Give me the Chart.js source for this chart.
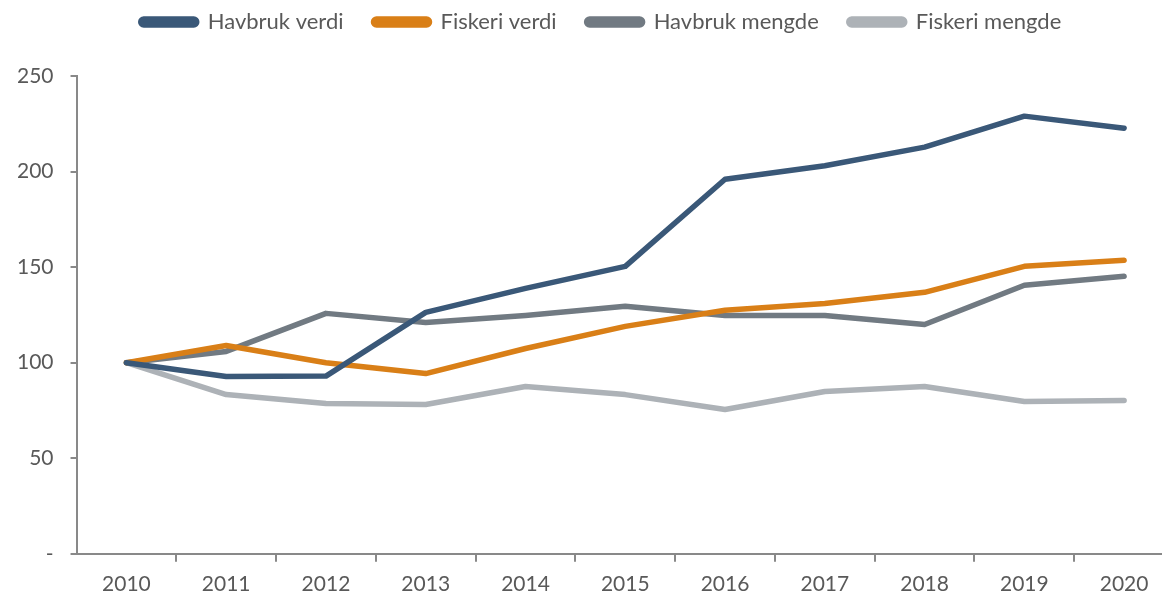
<!DOCTYPE html>
<html>
<head>
<meta charset="utf-8">
<script src="https://cdn.jsdelivr.net/npm/chart.js@4/dist/chart.umd.min.js"></script>
<style>
  html, body { margin: 0; padding: 0; background: #fff; }
  #wrap { width: 1162px; height: 595px; }
</style>
</head>
<body>
<div id="wrap"><canvas id="chart" width="1162" height="595"></canvas></div>
<script>
// Index, 2010 = 100
const years = ['2010', '2011', '2012', '2013', '2014', '2015', '2016', '2017', '2018', '2019', '2020'];
const havbrukVerdi = [100, 92.8, 93, 126.3, 138.9, 150.4, 196, 203, 212.8, 229, 222.7];
const fiskeriVerdi = [100, 109, 100, 94.3, 107.4, 119, 127.4, 131, 136.8, 150.4, 153.6];
const havbrukMengde = [100, 105.9, 125.8, 121, 124.7, 129.5, 124.7, 124.7, 120, 140.5, 145.2];
const fiskeriMengde = [100, 83.3, 78.6, 78.1, 87.5, 83.3, 75.5, 84.9, 87.5, 79.7, 80.2];
const yTicks = [0, 50, 100, 150, 200, 250];

const textColor = '#595959';
const axisColor = '#898989';
const font = { family: 'Lato', size: 21 };

function series(label, data, color) {
    return {
        label: label,
        data: data,
        borderColor: color,
        backgroundColor: color,
        borderWidth: 5.5,
        borderCapStyle: 'round',
        borderJoinStyle: 'round',
        pointRadius: 0,
        tension: 0
    };
}

// legend a bit to the right, and the x band runs past the canvas edge like the original
const layoutTweaks = {
    id: 'layoutTweaks',
    afterLayout(chart) {
        chart.legend.left += 20;
        chart.legend.right += 20;
        const extra = 12;
        const x = chart.scales.x;
        x.right += extra;
        x.width += extra;
        chart.chartArea.right += extra;
        chart.chartArea.width += extra;
        x.configure();
    }
};

const ctx = document.getElementById('chart').getContext('2d');
new Chart(ctx, {
    type: 'line',
    data: {
        labels: years,
        datasets: [
            series('Havbruk verdi', havbrukVerdi, '#3A5878'),
            series('Fiskeri verdi', fiskeriVerdi, '#D97F17'),
            series('Havbruk mengde', havbrukMengde, '#717A82'),
            series('Fiskeri mengde', fiskeriMengde, '#ADB2B7')
        ]
    },
    plugins: [layoutTweaks],
    options: {
        responsive: false,
        animation: false,
        layout: { padding: { left: 0, right: 0, top: -19, bottom: -12 } },
        plugins: {
            tooltip: { enabled: false },
            legend: {
                position: 'top',
                align: 'center',
                labels: {
                    boxWidth: 56,
                    boxHeight: 6,
                    useBorderRadius: true,
                    borderRadius: 3,
                    color: textColor,
                    font: { family: 'Lato', size: 22 },
                    padding: 30
                }
            },
            // empty title used only as a spacer between legend and plot
            title: {
                display: true,
                text: '',
                weight: 500,
                font: { size: 10, lineHeight: 1 },
                padding: { top: 0, bottom: 23 }
            }
        },
        scales: {
            x: {
                offset: true,
                grid: {
                    offset: true,
                    drawOnChartArea: false,
                    drawTicks: true,
                    tickLength: 8,
                    color: c => (c.index === 0 || c.index === years.length) ? 'rgba(0,0,0,0)' : axisColor,
                    lineWidth: 2
                },
                border: { color: axisColor, width: 2 },
                ticks: { color: textColor, font: font, padding: 10, maxRotation: 0 }
            },
            y: {
                min: 0,
                max: 250,
                afterBuildTicks: axis => { axis.ticks = yTicks.map(v => ({ value: v })); },
                grid: {
                    drawOnChartArea: false,
                    drawTicks: true,
                    tickLength: 6,
                    color: axisColor,
                    lineWidth: 2
                },
                border: { color: axisColor, width: 2 },
                ticks: {
                    color: textColor,
                    font: font,
                    padding: 17,
                    callback: v => v === 0 ? '-' : v
                }
            }
        }
    }
});
</script>
</body>
</html>
